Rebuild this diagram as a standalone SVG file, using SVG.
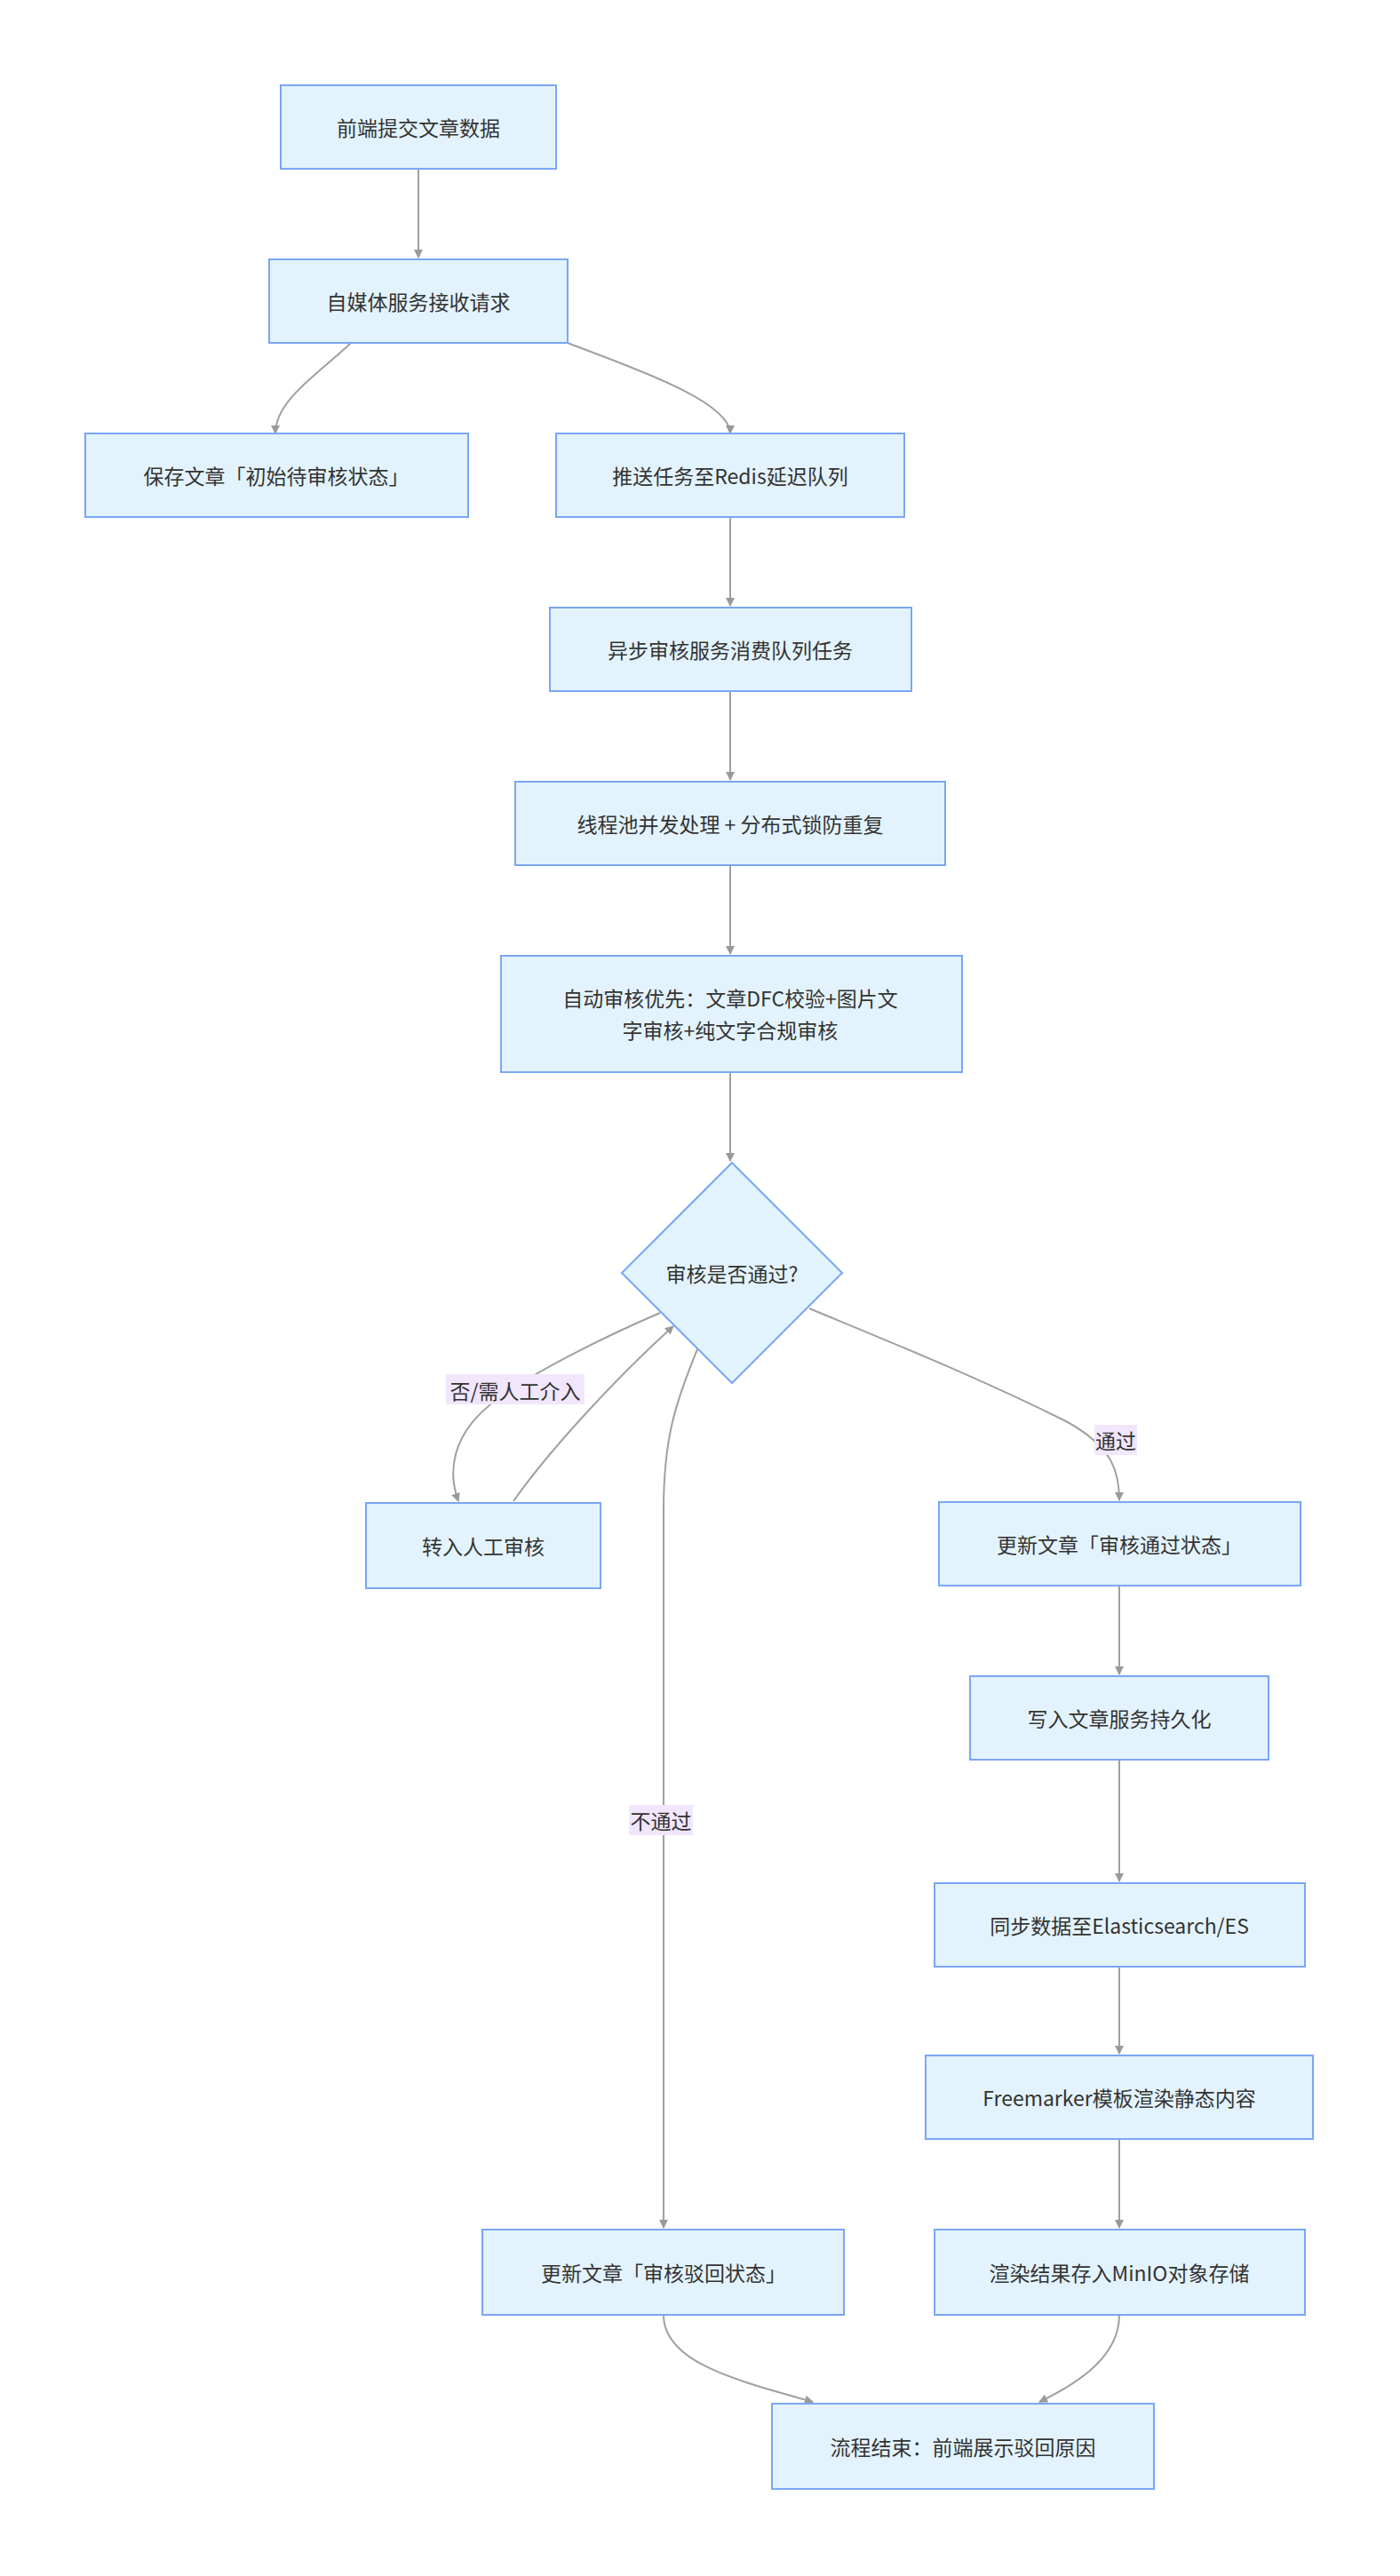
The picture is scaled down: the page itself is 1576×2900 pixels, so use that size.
<svg xmlns="http://www.w3.org/2000/svg" width="1576" height="2900" viewBox="0 0 1576 2900">
<style>
.n{fill:#e3f3fd;stroke:#7aa6f5;stroke-width:2}
.t{font-family:"Noto Sans CJK SC","Noto Sans",sans-serif;font-size:23px;fill:#333;text-anchor:middle;dominant-baseline:central}
.e{fill:none;stroke:#a0a0a0;stroke-width:2;marker-end:url(#a)}
.lb{fill:#f1e6fb}
</style>
<defs><marker id="a" viewBox="0 0 10 10" refX="9" refY="5" markerWidth="10" markerHeight="10" markerUnits="userSpaceOnUse" orient="auto"><path d="M0,0L10,5L0,10z" fill="#999"/></marker></defs>
<rect width="1576" height="2900" fill="#fff"/>
<g id="edges">
<path class="e" d="M471,190V290"/>
<path class="e" d="M395,386C360,420 310,450 310,488"/>
<path class="e" d="M639,386C700,410 822,450 822,488"/>
<path class="e" d="M822,582V682"/>
<path class="e" d="M822,778V878"/>
<path class="e" d="M822,974V1074"/>
<path class="e" d="M822,1207V1307"/>
<path class="e" d="M743,1478C680,1505 600,1545 560,1575C505,1615 505,1660 516,1690"/>
<path class="e" d="M578,1690C620,1630 700,1545 758,1493"/>
<path class="e" d="M785,1519C760,1580 747,1620 747,1700V2508"/>
<path class="e" d="M911,1473C1000,1510 1100,1550 1200,1600C1255,1630 1260,1660 1260,1689"/>
<path class="e" d="M1260,1785V1885"/>
<path class="e" d="M1260,1981V2118"/>
<path class="e" d="M1260,2214V2312"/>
<path class="e" d="M1260,2408V2508"/>
<path class="e" d="M747,2606C747,2660 830,2680 915,2704"/>
<path class="e" d="M1260,2606C1260,2650 1220,2680 1170,2704"/>
<rect class="lb" x="502" y="1547" width="156" height="34"/><text class="t" x="580" y="1565">否/需人工介入</text>
<rect class="lb" x="1232" y="1604" width="48" height="34"/><text class="t" x="1256" y="1621">通过</text>
<rect class="lb" x="708" y="2032" width="72" height="34"/><text class="t" x="744" y="2049">不通过</text>
</g>
<g id="n1"><rect class="n" x="316" y="96" width="310" height="94"/><text class="t" x="471" y="143">前端提交文章数据</text></g>
<g id="n2"><rect class="n" x="303" y="292" width="336" height="94"/><text class="t" x="471" y="339">自媒体服务接收请求</text></g>
<g id="n3"><rect class="n" x="96" y="488" width="431" height="94"/><text class="t" x="311" y="535">保存文章「初始待审核状态」</text></g>
<g id="n4"><rect class="n" x="626" y="488" width="392" height="94"/><text class="t" x="822" y="535">推送任务至Redis延迟队列</text></g>
<g id="n5"><rect class="n" x="619" y="684" width="407" height="94"/><text class="t" x="822" y="731">异步审核服务消费队列任务</text></g>
<g id="n6"><rect class="n" x="580" y="880" width="484" height="94"/><text class="t" x="822" y="927">线程池并发处理 + 分布式锁防重复</text></g>
<g id="n7"><rect class="n" x="564" y="1076" width="519" height="131"/><text class="t" x="822" y="1123">自动审核优先：文章DFC校验+图片文</text><text class="t" x="822" y="1159">字审核+纯文字合规审核</text></g>
<g id="n8"><path class="n" d="M824,1309L948,1433L824,1557L700,1433Z"/><text class="t" x="824" y="1433">审核是否通过?</text></g>
<g id="n9"><rect class="n" x="412" y="1692" width="264" height="96"/><text class="t" x="544" y="1740">转入人工审核</text></g>
<g id="n10"><rect class="n" x="1057" y="1691" width="407" height="94"/><text class="t" x="1260" y="1738">更新文章「审核通过状态」</text></g>
<g id="n11"><rect class="n" x="1092" y="1887" width="336" height="94"/><text class="t" x="1260" y="1934">写入文章服务持久化</text></g>
<g id="n12"><rect class="n" x="1052" y="2120" width="417" height="94"/><text class="t" x="1260" y="2167">同步数据至Elasticsearch/ES</text></g>
<g id="n13"><rect class="n" x="1042" y="2314" width="436" height="94"/><text class="t" x="1260" y="2361">Freemarker模板渲染静态内容</text></g>
<g id="n14"><rect class="n" x="1052" y="2510" width="417" height="96"/><text class="t" x="1260" y="2558">渲染结果存入MinIO对象存储</text></g>
<g id="n15"><rect class="n" x="543" y="2510" width="407" height="96"/><text class="t" x="747" y="2558">更新文章「审核驳回状态」</text></g>
<g id="n16"><rect class="n" x="869" y="2706" width="430" height="96"/><text class="t" x="1084" y="2754">流程结束：前端展示驳回原因</text></g>
</svg>
